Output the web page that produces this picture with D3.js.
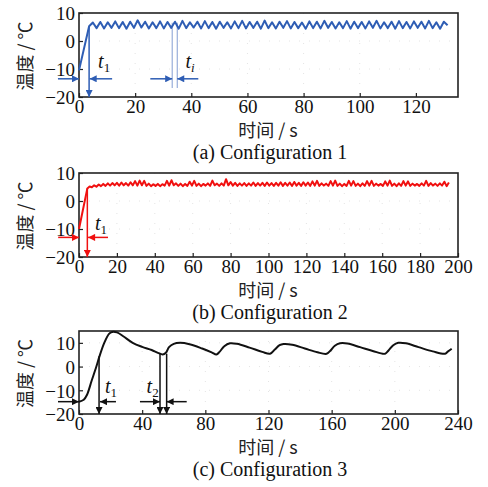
<!DOCTYPE html>
<html>
<head>
<meta charset="utf-8">
<script src="https://cdn.jsdelivr.net/npm/d3@7"></script>
<style>
  body { margin: 0; background: #fff; }
  svg text { font-family: "Liberation Serif", "DejaVu Serif", serif; }
  .cjk { font-family: "Noto Sans CJK SC", sans-serif !important; }
</style>
</head>
<body>
<svg id="vis" width="488" height="487"></svg>
<script>
// ---- data ----
// (a) start of the rise, then alternating peak / trough values every aStep seconds
const aStart = [[0, -10.5], [3.6, 5.3]];
const aStep = 1.33;
const aSaw = [6.6,4.6,6.8,4.5,6.7,4.7,7.0,4.6,6.8,4.4,6.9,4.7,7.4,4.8,6.9,4.5,6.7,4.6,7.0,4.5,
  6.8,4.7,6.9,4.4,7.2,4.6,6.7,4.8,6.9,4.5,7.1,4.6,6.8,4.4,6.9,4.7,6.7,4.5,7.0,4.6,
  7.2,4.5,6.8,4.7,6.9,4.4,7.3,4.6,6.7,4.5,6.9,4.7,7.1,4.5,6.8,4.6,6.6,4.4,7.0,4.6,
  6.9,4.5,7.2,4.7,6.8,4.5,6.7,4.6,7.1,4.4,6.9,4.6,6.8,4.5,7.0,4.7,7.2,4.5,6.7,4.6,
  6.9,4.4,7.1,4.6,6.8,4.5,7.0,4.7,6.9,4.5,7.2,4.6,6.7,4.4,6.9,5.6];

// (b)
const bStart = [[0, -10], [4.4, 4.5]];
const bStep = 1.2;
const bSaw = [5.2,4.9,5.6,5.1,5.9,5.3,6.1,5.4,6.3,5.5,
  6.4,5.6,6.5,5.5,6.6,5.6,6.4,5.5,6.7,5.6,
  7.1,5.5,7.3,5.6,7.2,5.4,6.2,5.3,6.0,5.4,
  6.1,5.3,6.0,5.5,7.2,5.5,7.4,5.6,6.3,5.4,
  6.2,5.3,6.1,5.4,6.9,5.5,7.2,5.4,6.2,5.3,
  6.1,5.5,6.3,5.4,7.3,5.6,6.2,5.4,6.3,5.5,
  7.8,5.6,6.8,5.5,6.5,5.4,6.3,5.5,6.4,5.4,
  6.3,5.5,6.6,5.4,6.4,5.5,6.5,5.4,6.6,5.5,
  6.4,5.4,6.5,5.5,6.7,5.4,6.5,5.5,6.6,5.4,
  6.8,5.5,6.5,5.4,6.7,5.5,6.6,5.4,7.0,5.5,
  7.2,5.4,6.3,5.5,6.2,5.4,7.1,5.5,7.3,5.4,
  6.2,5.3,6.1,5.4,7.2,5.5,7.1,5.4,6.2,5.3,
  6.3,5.4,7.1,5.5,7.2,5.4,6.2,5.5,6.1,5.4,
  7.0,5.5,7.3,5.4,6.2,5.3,6.3,5.4,7.1,5.5,
  7.0,5.4,6.2,5.5,6.1,5.4,6.3,5.5,7.2,5.4,
  6.4,5.5,6.2,5.4,6.3,5.5,6.9,5.3,6.6];

// (c) smooth curve, [time, temperature]
const cPoints = [[0,-14.8],[3,-14],[5,-12],[8,-6],[11,0],[13,4.4],[16,10],[19,13.8],[21,14.6],[24,14.4],
  [28,12.8],[34,10],[40,8.3],[46,7],[50,5.8],[53,5.1],[55,5.8],[57,8.2],[60,9.6],[64,10],
  [70,9.4],[78,7.6],[84,6],[87,5.1],[89,6.2],[92,8.6],[95.6,9.8],[100,9.6],[108,8],[116,6.2],
  [121,5.4],[124,7.2],[127,9],[129.5,9.5],[135,9.2],[143,7.6],[151,6],[156.8,5.4],[159,6.6],[162,8.8],
  [165.3,9.8],[170,9.7],[178,8.2],[186,6.6],[193.8,5.4],[196,6.8],[199,9],[202.2,10],[207,9.8],[215,8.2],
  [224,6.4],[231.8,5.4],[233.5,6.3],[236,7.5]];

const aXTicks = [0, 20, 40, 60, 80, 100, 120];
const bXTicks = [0, 20, 40, 60, 80, 100, 120, 140, 160, 180, 200];
const cXTicks = [0, 40, 80, 120, 160, 200, 240];
const yTicks = [-20, -10, 0, 10];

const captions = ["(a) Configuration 1", "(b) Configuration 2", "(c) Configuration 3"];

// annotations: arrows [from, to] in data units, marker lines, labels
const aArrows = [[[-7.5, -13.5], [0, -13.5]], [[11.8, -13.5], [3.8, -13.5]],
                 [[25.4, -13.5], [33.2, -13.5]], [[42.5, -13.5], [35, -13.5]],
                 [[3.6, 5], [3.6, -20]]];
const aLines = [[[33.2, 6.5], [33.2, -16.8]], [[35, 6.5], [35, -16.8]]];
const aLabels = [[6.8, -9.6, "1"], [37.9, -9.6, "i"]];

const bArrows = [[[-11, -13], [0, -13]], [[15.3, -13], [4.8, -13]],
                 [[4.4, 4.5], [4.4, -20]]];
const bLabels = [[8.4, -10.5, "1"]];

const cArrows = [[[-13.3, -14.8], [0, -14.8]], [[23.4, -14.8], [13.3, -14.8]],
                 [[38.6, -14.8], [51.3, -14.8]], [[68.2, -14.8], [55.5, -14.8]],
                 [[12.7, 4.4], [12.7, -20]], [[51.3, 5.4], [51.3, -20]], [[55.5, 5.4], [55.5, -20]]];
const cLabels = [[16.5, -11, "1"], [42.8, -11, "2"]];

// ---- layout ----
const svg = d3.select("#vis");
let left = 79, right = 458;

const defs = svg.append("defs");
function marker(id, color) {
  defs.append("marker")
      .attr("id", id)
      .attr("viewBox", "0 0 10 10")
      .attr("refX", 10).attr("refY", 5)
      .attr("markerWidth", 11).attr("markerHeight", 7)
      .attr("markerUnits", "userSpaceOnUse")
      .attr("orient", "auto")
    .append("path")
      .attr("d", "M0,0L10,5L0,10z")
      .attr("fill", color);
}
marker("headBlue", "#2e5db4");
marker("headRed", "#f01010");
marker("headBlack", "#111");

const sawPoints = (start, step, vals) =>
  start.concat(vals.map((v, i) => [start[start.length - 1][0] + (i + 1) * step, v]));

const panels = [
  { top: 13, bottom: 97, xMax: 135, yMax: 10, xTicks: aXTicks, color: "#2e5db4", head: "headBlue",
    data: sawPoints(aStart, aStep, aSaw), curve: d3.curveLinear, arrows: aArrows, lines: aLines, labels: aLabels },
  { top: 173, bottom: 257, xMax: 200, yMax: 10, xTicks: bXTicks, color: "#f01010", head: "headRed",
    data: sawPoints(bStart, bStep, bSaw), curve: d3.curveLinear, arrows: bArrows, lines: [], labels: bLabels },
  { top: 331, bottom: 414, xMax: 240, yMax: 15, xTicks: cXTicks, color: "#111", head: "headBlack",
    data: cPoints, curve: d3.curveCatmullRom, arrows: cArrows, lines: [], labels: cLabels }
];

panels.forEach((p, k) => {
  const x = d3.scaleLinear().domain([0, p.xMax]).range([left, right]);
  const y = d3.scaleLinear().domain([-20, p.yMax]).range([p.bottom, p.top]);
  const g = svg.append("g");

  // faint dotted grid
  g.append("g").selectAll("line")
    .data(p.xTicks.slice(1, -1))
    .join("line")
      .attr("x1", d => x(d)).attr("x2", d => x(d))
      .attr("y1", p.top).attr("y2", p.bottom)
      .attr("stroke", "#e4e4e4").attr("stroke-dasharray", "1,9");
  g.append("g").selectAll("line")
    .data(yTicks.slice(1))
    .join("line")
      .attr("x1", left).attr("x2", right)
      .attr("y1", d => y(d)).attr("y2", d => y(d))
      .attr("stroke", "#e4e4e4").attr("stroke-dasharray", "1,9");

  const xAxis = g.append("g")
      .attr("transform", `translate(0,${p.bottom})`)
      .call(d3.axisBottom(x).tickValues(p.xTicks).tickSize(-4).tickSizeOuter(0).tickPadding(2));
  const yAxis = g.append("g")
      .attr("transform", `translate(${left},0)`)
      .call(d3.axisLeft(y).tickValues(yTicks).tickSize(-4).tickSizeOuter(0).tickPadding(4));
  [xAxis, yAxis].forEach(ax => {
    ax.select(".domain").remove();
    ax.selectAll("line").attr("stroke", "#222").attr("stroke-width", 1.2);
    ax.selectAll("text").attr("font-size", 19).attr("fill", "#111")
      .style("font-family", "'Liberation Serif', serif");
  });
  yAxis.selectAll("text").attr("dy", "0.36em");

  g.append("rect")
      .attr("x", left).attr("y", p.top)
      .attr("width", right - left).attr("height", p.bottom - p.top)
      .attr("fill", "none").attr("stroke", "#222").attr("stroke-width", 1.6);

  // guide lines (a)
  g.append("g").selectAll("line")
    .data(p.lines)
    .join("line")
      .attr("x1", d => x(d[0][0])).attr("y1", d => y(d[0][1]))
      .attr("x2", d => x(d[1][0])).attr("y2", d => y(d[1][1]))
      .attr("stroke", "#8fa6d6").attr("stroke-width", 1.1);

  g.append("path")
      .datum(p.data)
      .attr("d", d3.line().x(d => x(d[0])).y(d => y(d[1])).curve(p.curve))
      .attr("fill", "none")
      .attr("stroke", p.color)
      .attr("stroke-width", 2)
      .attr("stroke-linejoin", "round");

  g.append("g").selectAll("line")
    .data(p.arrows)
    .join("line")
      .attr("x1", d => x(d[0][0])).attr("y1", d => y(d[0][1]))
      .attr("x2", d => x(d[1][0])).attr("y2", d => y(d[1][1]))
      .attr("stroke", p.color).attr("stroke-width", 1.5)
      .attr("marker-end", `url(#${p.head})`);

  const lab = g.append("g").selectAll("text")
    .data(p.labels)
    .join("text")
      .attr("x", d => x(d[0])).attr("y", d => y(d[1]))
      .attr("font-size", 20).attr("fill", "#111");
  lab.append("tspan").attr("font-style", "italic").text("t");
  lab.append("tspan").attr("font-size", 13).attr("dy", 4)
      .attr("font-style", d => d[2] === "i" ? "italic" : "normal")
      .text(d => d[2]);

  // axis titles
  const midY = (p.top + p.bottom) / 2;
  svg.append("text")
      .attr("class", "cjk")
      .attr("transform", `translate(32,${midY + 1}) rotate(-90)`)
      .attr("text-anchor", "middle")
      .attr("font-size", 18).attr("fill", "#222")
      .text("温度 / ℃");
  svg.append("text")
      .attr("class", "cjk")
      .attr("x", 268).attr("y", p.bottom + 40)
      .attr("text-anchor", "middle")
      .attr("font-size", 18).attr("fill", "#222")
      .text("时间 / s");
  svg.append("text")
      .attr("x", 270).attr("y", p.bottom + 62)
      .attr("text-anchor", "middle")
      .attr("font-size", 20).attr("fill", "#111")
      .text(captions[k]);
});
</script>
</body>
</html>
